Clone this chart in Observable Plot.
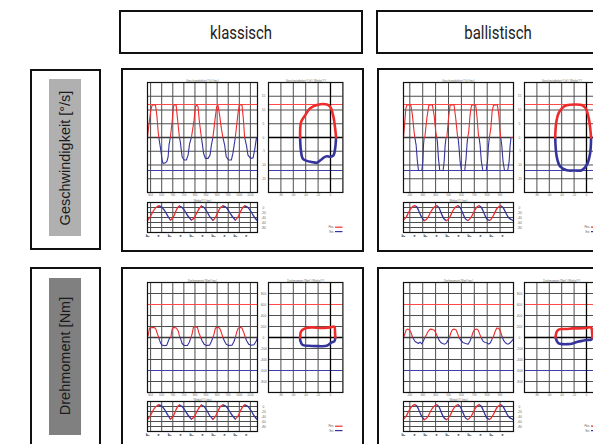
<!DOCTYPE html>
<html><head><meta charset="utf-8">
<script src="https://cdn.jsdelivr.net/npm/d3@7"></script>
<script src="https://cdn.jsdelivr.net/npm/@observablehq/plot@0.6"></script>
<style>
body{margin:0;background:#fff;}
#root{position:relative;width:593px;height:444px;overflow:hidden;background:#fff;font-family:"Liberation Sans",Arial,sans-serif;}
.box{position:absolute;border:2px solid #111;box-sizing:border-box;background:#fff;}
.hdr{position:absolute;left:50%;top:50%;transform:translate(-50%,-50%) scaleX(0.83);font-family:Roboto,"Liberation Sans",sans-serif;font-size:18px;color:#222;white-space:nowrap;}
.rowtxt{position:absolute;transform:translate(-50%,-50%) rotate(-90deg);font-size:14.5px;color:#1a1a1a;white-space:nowrap;}
</style></head><body><div id="root"></div>
<script>
// ---------- column / row names ----------
const columns = ["klassisch", "ballistisch"];
const rows = ["Geschwindigkeit [°/s]", "Drehmoment [Nm]"];
const legendNames = ["Flex.", "Ext."];

// ---------- axes / ticks ----------
const kTimeDomain = [586, 1082];
const kTimeTicks = [600, 650, 700, 750, 800, 850, 900, 950, 1000, 1050];
const bTimeDomain = [151, 1004];
const bTimeTicks = [200, 300, 400, 500, 600, 700, 800, 900];
const kPosLabelT = [587, 636, 686, 735, 785, 834, 884, 933, 983, 1032];
const bPosLabelT = [151, 236, 322, 407, 492, 578, 663, 748, 833, 919];
const posLabelText = ["b₀", "e", "b₀", "e", "b₀", "e", "b₀", "e", "b₀", "e"];
const velDomain = [-20, 20];
const velTicks = [-15, -10, -5, 0, 5, 10, 15];
const velLimit = 12;
const torDomain = [-1000, 1000];
const torTicks = [-800, -600, -400, -200, 0, 200, 400, 600, 800];
const torLimit = 600;
const posDomain = [-100, 20];
const posTicks = [-80, -60, -40, -20, 0];

// ---------- klassisch: velocity over time ----------
const kVelT = [586,592,601,607,622,628,634,637,646,652,656,667,674,679,683,689,697,703,706,715,721,730,734,742,751,761,769,776,784,796,802,808,814,820,829,832,839,847,859,868,874,881,892,898,904,911,919,926,934,941,952,964,971,979,982,994,1000,1012,1018,1024,1032,1039,1051,1062,1069,1077,1081];
const kVelV = [0,4.5,10,11.8,11.8,8.2,2.1,0,-4.6,-8.2,-9.4,-9.2,-8.6,-7,-2.8,0,5.7,11.2,11.8,11.8,7,0,-1.6,-7,-8.2,-8.2,-6.4,-2.2,0,6.3,11.2,11.8,11.2,5.7,0,-1.6,-5.8,-7.6,-7.6,-6.4,-2.8,0,7.6,11.2,11.6,8.2,3.3,0,-2.8,-7,-8.2,-8.2,-5.8,-1.6,0,8.8,11.8,11.8,7,0,-2.8,-6.4,-7.6,-7.4,-4.6,-0.3,0];
// ---------- ballistisch: velocity over time ----------
const bVelT = [151,160,169,177,208,220,233,239,249,259,267,277,293,301,306,311,316,332,347,357,375,388,401,409,414,422,432,440,458,466,474,481,487,500,512,523,543,556,569,574,580,590,600,608,626,636,644,649,657,667,678,688,711,722,732,737,745,755,766,776,792,802,810,817,828,838,848,859,879,890,900,905,913,923,934,944,959,970,978,985,1003];
const bVelV = [0,5,10.5,11.8,11.8,8.2,2.1,0,-2.8,-8.8,-11.9,-12,-12,-8.8,-2.8,0,0,7,11.6,11.8,11.8,8.2,2.1,0,-1.6,-7.6,-11.9,-12,-12,-8.8,-2.8,0,0,7,11.6,11.8,11.8,7,0.9,0,-2.8,-8.8,-11.9,-12,-12,-7.6,-2.2,0,2.1,8.2,11.6,11.8,11.8,7,0.9,0,-2.8,-8.8,-11.9,-12,-12,-8.8,-2.8,0,3.3,9.4,11.6,11.8,11.8,8.2,2.1,0,-2.8,-8.8,-11.9,-12,-12,-8.8,-2.8,0,0];
// ---------- klassisch: torque over time ----------
const kTorT = [589,595,616,624,631,637,640,646,652,664,673,679,685,691,697,703,716,724,731,736,742,751,766,774,781,787,793,799,811,817,826,832,841,851,866,874,881,886,892,901,911,919,926,934,941,952,967,976,982,988,994,1003,1012,1020,1027,1033,1042,1054,1066,1077,1081];
const kTorV = [32,172,184,153,62,0,-48,-109,-139,-151,-139,-72,-11,0,153,184,172,123,13,-29,-109,-145,-145,-90,-11,62,184,196,184,92,0,-60,-121,-145,-139,-72,0,62,172,184,172,92,0,-72,-121,-145,-139,-72,0,92,166,184,172,92,0,-60,-121,-139,-133,-60,-11];
// ---------- ballistisch: torque over time ----------
const bTorT = [151,161,171,182,197,210,220,228,241,254,267,280,293,306,316,329,342,357,375,388,401,414,427,440,453,471,484,497,507,518,531,543,559,572,582,595,611,634,652,665,678,688,701,717,730,742,753,766,781,797,812,825,841,848,861,874,890,903,916,926,941,957,972,988,1001];
const bTorV = [0,62,135,153,135,86,13,-23,-72,-90,-109,-84,-115,-60,0,50,111,153,147,135,86,13,-48,-90,-109,-121,-102,-48,0,86,141,153,135,62,0,-48,-90,-109,-121,-72,0,86,141,153,135,62,0,-60,-90,-96,-121,-96,-11,13,105,172,166,111,13,-48,-96,-121,-109,-72,-35];
// ---------- angle over time ----------
const kPosT = [586,600,615,630,637,650,665,680,689,697,706,715,724,730,742,755,769,784,796,808,820,829,840,855,868,881,892,904,915,926,941,955,970,982,994,1006,1018,1024,1039,1055,1069,1081];
const kPosP = [-52,-35,-10,4,6,2,-15,-38,-50,-45,-32,-12,2,6,0,-15,-35,-50,-42,-22,-3,6,1,-18,-38,-51,-40,-18,0,6,0,-18,-38,-50,-38,-15,2,6,0,-20,-40,-52];
const bPosT = [151,170,195,220,239,255,275,295,311,316,340,365,390,409,425,445,465,481,487,510,535,555,574,590,610,630,649,657,680,705,722,737,755,775,795,817,828,850,875,895,905,923,945,965,985,1003];
const bPosP = [-50,-40,-15,3,7,2,-20,-42,-52,-52,-40,-15,2,7,0,-25,-45,-52,-52,-38,-12,2,7,0,-22,-44,-52,-50,-35,-10,3,7,0,-22,-44,-52,-48,-30,-5,5,7,0,-22,-40,-48,-53];
// ---------- phase loops (angle vs. velocity / torque) ----------
const kVelPhX = [-49,-47.3,-40.8,-32.7,-22,-5.8,-0.5,4.8,7.5,9,7.5,4.8,-0.5,-5.8,-11,-16.2,-22,-30,-38.1,-44.6,-47.8,-49];
const kVelPhY = [0,5.7,8.1,10.6,11.8,12,11.2,7.5,3.3,0,-4,-6.5,-7,-6.8,-7.3,-8.3,-9.2,-8.9,-8.5,-7.7,-4.6,0];
const bVelPhX = [-50.5,-49,-45.2,-39.8,-31.8,-18.4,-7.6,-1.2,4.2,7.4,5.8,0.4,-7.6,-18.4,-31.8,-42.6,-48,-50.5];
const bVelPhY = [0,5.1,8.7,10.6,11.7,12,11.8,10.6,6.3,0,-5.8,-10,-11.9,-12,-11.9,-10.5,-7,0];
const kTorPhX = [-49,-47.5,-41,-30.4,-14.3,-0.7,6.2,7.3,7.8,6.2,1.8,-6.2,-19.6,-35.7,-45.4,-48.6,-49];
const kTorPhY = [0,111,166,184,172,184,196,93,0,-72,-90,-151,-157,-151,-133,-60,0];
const bTorPhX = [-50,-48.5,-45.9,-41.1,-33,-22.2,-11.4,-0.8,7.3,9,9.5,7.5,1.9,-6.1,-14.2,-22.2,-30.3,-38.4,-44.8,-48,-50];
const bTorPhY = [0,93,135,154,154,166,166,172,184,100,0,-40,-47,-60,-78,-108,-121,-121,-108,-60,0];

// ---------- styling ----------
const RED = "#ee2b2b", BLUE = "#34349c", RED_L = "#ff4a4a", BLUE_L = "#3e3eaa";
const GRID = "#4e4e4e", LABEL = "#666";
const root = document.getElementById("root");

function addBox(left, top, w, h, cls) {
  const d = document.createElement("div");
  d.className = cls || "box";
  Object.assign(d.style, {left: left + "px", top: top + "px", width: w + "px", height: h + "px"});
  root.appendChild(d);
  return d;
}
function toRuns(xs, ys, colorOf) {
  const pts = []; let run = -1, prev = null;
  for (let i = 0; i < xs.length - 1; i++) {
    const c = colorOf(ys, i);
    if (c !== prev) { run++; pts.push({x: xs[i], y: ys[i], run, c}); prev = c; }
    pts.push({x: xs[i + 1], y: ys[i + 1], run, c});
  }
  return pts;
}
const signColor = (ys, i) => (ys[i] + ys[i + 1]) / 2 >= 0 ? "r" : "b";
const slopeColor = (ys, i) => ys[i + 1] >= ys[i] ? "r" : "b";
function curveMarks(pts, width, curve) {
  const o = {x: "x", y: "y", z: "run", strokeWidth: width, curve, strokeLinecap: "round", strokeLinejoin: "round"};
  return [
    Plot.line(pts.filter(d => d.c === "b"), {...o, stroke: BLUE}),
    Plot.line(pts.filter(d => d.c === "r"), {...o, stroke: RED})
  ];
}
function makePlot(o) {
  const mL = 12, mR = 16, mT = 9, mB = 10;
  const m = [];
  if (o.xGrid) m.push(Plot.ruleX(o.xGrid, {stroke: GRID, strokeWidth: 1}));
  if (o.yGrid) m.push(Plot.ruleY(o.yGrid, {stroke: GRID, strokeWidth: 1}));
  if (o.extra) m.push(...o.extra);
  m.push(...o.curves);
  m.push(Plot.frame({stroke: "#111", strokeWidth: 1.2}));
  if (o.yLabels) m.push(Plot.text(o.yLabels, {y: d => d, text: d => String(d), frameAnchor: "right", dx: 6, fontSize: 3.2, fill: LABEL, textAnchor: "middle"}));
  if (o.xLabels) {
    const opt = {x: d => d, text: (d, i) => o.xText ? o.xText[i] : String(d), frameAnchor: "bottom", dy: o.xDy || 3.5, fontSize: o.xFont || 2.8, fill: o.xFill || LABEL};
    if (o.xBold) opt.fontWeight = "bold";
    m.push(Plot.text(o.xLabels, opt));
  }
  if (o.title) m.push(Plot.text([o.title], {frameAnchor: "top", dy: -2.6, fontSize: 2.8, fill: LABEL}));
  const svg = Plot.plot({
    width: o.w + mL + mR, height: o.h + mT + mB,
    marginLeft: mL, marginRight: mR, marginTop: mT, marginBottom: mB,
    x: {domain: o.xDomain, axis: null}, y: {domain: o.yDomain, axis: null},
    style: {background: "transparent", overflow: "visible", fontFamily: "Liberation Sans, Arial, sans-serif"},
    marks: m
  });
  Object.assign(svg.style, {position: "absolute", left: (o.left - mL) + "px", top: (o.top - mT) + "px", maxWidth: "none"});
  root.appendChild(svg);
}

function panel(px, py, tTop, bTop, cfg) {
  addBox(px, py, 243, cfg.boxH);
  const tl = px + 25.7;
  const yDom = cfg.isTor ? torDomain : velDomain;
  const yT = cfg.isTor ? torTicks : velTicks;
  const lim = cfg.isTor ? torLimit : velLimit;
  const limits = [
    Plot.ruleY([0], {stroke: "#3a3a3a", strokeWidth: 1.4}),
    Plot.ruleY([lim], {stroke: RED_L, strokeWidth: 1.2}),
    Plot.ruleY([-lim], {stroke: BLUE_L, strokeWidth: 1.2})
  ];
  // time plot
  makePlot({left: tl, top: tTop, w: 110, h: 110, xDomain: cfg.tDom, yDomain: yDom,
    xGrid: cfg.tTicks, yGrid: yT, extra: limits,
    curves: curveMarks(toRuns(cfg.t, cfg.v, signColor), 1.1, "linear"),
    yLabels: yT, xLabels: cfg.tTicks, title: cfg.tTitle});
  // phase plot
  makePlot({left: px + 147.3, top: tTop, w: 74.4, h: 110, xDomain: posDomain, yDomain: yDom,
    xGrid: posTicks, yGrid: yT,
    extra: [Plot.ruleY([lim], {stroke: RED_L, strokeWidth: 1.2}), Plot.ruleY([-lim], {stroke: BLUE_L, strokeWidth: 1.2}),
            Plot.ruleY([0], {stroke: "#000", strokeWidth: 1.3}), Plot.ruleX([0], {stroke: "#000", strokeWidth: 1.3})],
    curves: curveMarks(toRuns(cfg.phX, cfg.phY, signColor), 2.6, "catmull-rom"),
    xLabels: posTicks, title: cfg.phTitle});
  // angle plot
  makePlot({left: tl, top: bTop, w: 110, h: 30, xDomain: cfg.tDom, yDomain: posDomain,
    xGrid: cfg.tTicks, yGrid: posTicks,
    curves: curveMarks(toRuns(cfg.pT, cfg.pP, slopeColor), 1.3, "monotone-x"),
    yLabels: posTicks, xLabels: cfg.pLab, xText: posLabelText, xBold: true, xFont: 3.8, xDy: 4, xFill: "#222",
    title: "Winkel [°] (ms)"});
  // legend
  const ns = "http://www.w3.org/2000/svg";
  const sv = document.createElementNS(ns, "svg");
  sv.setAttribute("width", 30); sv.setAttribute("height", 12);
  Object.assign(sv.style, {position: "absolute", left: (px + 194) + "px", top: (bTop + 21) + "px", overflow: "visible"});
  [[RED, 4.2, legendNames[0]], [BLUE, 8.6, legendNames[1]]].forEach(([c, y, t]) => {
    const l = document.createElementNS(ns, "line");
    l.setAttribute("x1", 20); l.setAttribute("x2", 27.5); l.setAttribute("y1", y); l.setAttribute("y2", y);
    l.setAttribute("stroke", c); l.setAttribute("stroke-width", 1.2);
    sv.appendChild(l);
    const tx = document.createElementNS(ns, "text");
    tx.setAttribute("x", 19); tx.setAttribute("y", y + 0.9); tx.setAttribute("text-anchor", "end");
    tx.setAttribute("font-size", 2.6); tx.setAttribute("fill", "#555"); tx.textContent = t;
    sv.appendChild(tx);
  });
  root.appendChild(sv);
}

// ---------- header boxes ----------
[[119, columns[0]], [376, columns[1]]].forEach(([x, t]) => {
  const b = addBox(x, 9.5, 244, 44.5);
  const s = document.createElement("div"); s.className = "hdr"; s.textContent = t; b.appendChild(s);
});
// ---------- row label boxes ----------
[[68.5, 181.5, 79, 157, "#b0b0b0", rows[0]], [266.5, 200, 277.7, 157.5, "#808080", rows[1]]].forEach(([y, h, gy, gh, col, t]) => {
  addBox(30, y, 71, h);
  const g = document.createElement("div");
  Object.assign(g.style, {position: "absolute", left: "49px", top: gy + "px", width: "32px", height: gh + "px", background: col});
  root.appendChild(g);
  const s = document.createElement("div"); s.className = "rowtxt"; s.textContent = t;
  Object.assign(s.style, {left: "65px", top: (gy + gh / 2) + "px"});
  root.appendChild(s);
});

// ---------- panels ----------
const velTitles = {tTitle: "Geschwindigkeit [°/s] (ms)", phTitle: "Geschwindigkeit [°/s] / Winkel [°]"};
const torTitles = {tTitle: "Drehmoment [Nm] (ms)", phTitle: "Drehmoment [Nm] / Winkel [°]"};
panel(121, 68, 82.3, 201.7, {boxH: 183.5, tDom: kTimeDomain, tTicks: kTimeTicks, t: kVelT, v: kVelV,
  phX: kVelPhX, phY: kVelPhY, pT: kPosT, pP: kPosP, pLab: kPosLabelT, ...velTitles});
panel(377, 68, 82.3, 201.7, {boxH: 183.5, tDom: bTimeDomain, tTicks: bTimeTicks, t: bVelT, v: bVelV,
  phX: bVelPhX, phY: bVelPhY, pT: bPosT, pP: bPosP, pLab: bPosLabelT, ...velTitles});
panel(121, 266.5, 282.3, 400.8, {boxH: 200, isTor: true, tDom: kTimeDomain, tTicks: kTimeTicks, t: kTorT, v: kTorV,
  phX: kTorPhX, phY: kTorPhY, pT: kPosT, pP: kPosP, pLab: kPosLabelT, ...torTitles});
panel(377, 266.5, 282.3, 400.8, {boxH: 200, isTor: true, tDom: bTimeDomain, tTicks: bTimeTicks, t: bTorT, v: bTorV,
  phX: bTorPhX, phY: bTorPhY, pT: bPosT, pP: bPosP, pLab: bPosLabelT, ...torTitles});
</script></body></html>
